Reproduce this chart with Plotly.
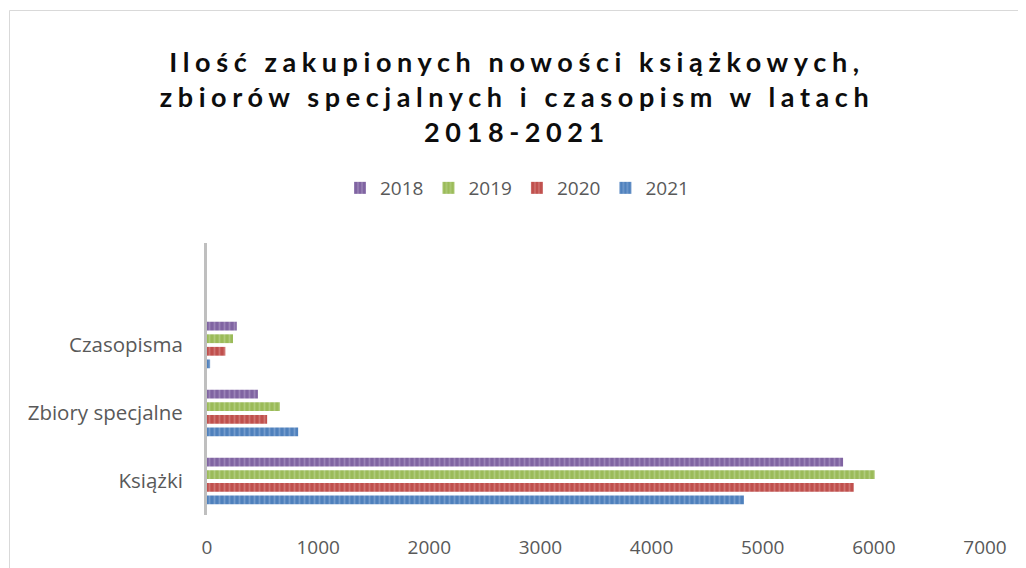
import plotly.graph_objects as go

# data
categories = ["Książki", "Zbiory specjalne", "Czasopisma", " "]
years = ["2018", "2019", "2020", "2021"]
values = {
    "2018": [5723, 458, 268],
    "2019": [6008, 656, 234],
    "2020": [5819, 541, 165],
    "2021": [4831, 820, 28],
}
x_ticks = [0, 1000, 2000, 3000, 4000, 5000, 6000, 7000]

COLOURS = {
    "2018": ("#8064A2", "#B5A4CC"),
    "2019": ("#9BBB59", "#C6DBA0"),
    "2020": ("#C0504D", "#DE9A98"),
    "2021": ("#4F81BD", "#9DB9DE"),
}
GREY = "#595959"
FONT = "Open Sans"

# the page body has an 8px margin, so the figure is 8px smaller than the window
W, H = 1018, 560
L, R, T, B = 199, 41, 235, 53

fig = go.Figure()
for yr in reversed(years):
    dark, light = COLOURS[yr]
    fig.add_trace(
        go.Bar(
            x=values[yr],
            y=categories[:3],
            name=yr,
            orientation="h",
            marker=dict(
                color=dark,
                line=dict(width=0),
                pattern=dict(shape="|", fgcolor=light, bgcolor=dark, size=5, solidity=0.35),
            ),
        )
    )

title = (
    '<span style="letter-spacing:5.6px">Ilość zakupionych nowości książkowych,'
    "<br>zbiorów specjalnych i czasopism w latach<br>2018-2021</span>"
)

fig.update_layout(
    width=W,
    height=H,
    margin=dict(l=L, r=R, t=T, b=B),
    paper_bgcolor="white",
    plot_bgcolor="white",
    barmode="group",
    bargap=0.26,
    bargroupgap=0.3,
    font=dict(family=FONT, color=GREY, size=19),
    title=dict(
        text=title,
        x=0.5,
        xref="container",
        xanchor="center",
        y=1 - 64 / H,
        yanchor="top",
        font=dict(family="Lato", size=27, color="#0D0D0D", weight="bold"),
    ),
    legend=dict(
        orientation="h",
        x=0.5,
        xref="container",
        xanchor="center",
        y=(H - 180) / H,
        yref="container",
        yanchor="middle",
        traceorder="reversed",
        font=dict(size=19, color=GREY),
        itemwidth=30,
    ),
    showlegend=True,
)

fig.update_xaxes(
    range=[0, 7000],
    tickvals=x_ticks,
    showgrid=False,
    zeroline=False,
    showline=False,
    ticks="",
    ticklabelstandoff=19,
    automargin=False,
)
fig.update_yaxes(
    type="category",
    categoryorder="array",
    categoryarray=categories,
    range=[-0.5, 3.5],
    showgrid=False,
    zeroline=False,
    showline=True,
    linecolor="#BFBFBF",
    linewidth=3,
    ticks="",
    tickvals=categories[:3],
    tickfont=dict(size=20.5),
    ticklabelstandoff=17,
    automargin=False,
)

# chart frame
px_to_x = lambda p: (p - L) / (W - L - R)
px_to_y = lambda p: (H - B - p) / (H - T - B)
fig.add_shape(
    type="rect",
    xref="paper",
    yref="paper",
    x0=px_to_x(1.5),
    x1=px_to_x(1010.5),
    y0=px_to_y(600),
    y1=px_to_y(2.5),
    line=dict(color="#D9D9D9", width=1),
    layer="below",
)

fig.write_html("out.html")
